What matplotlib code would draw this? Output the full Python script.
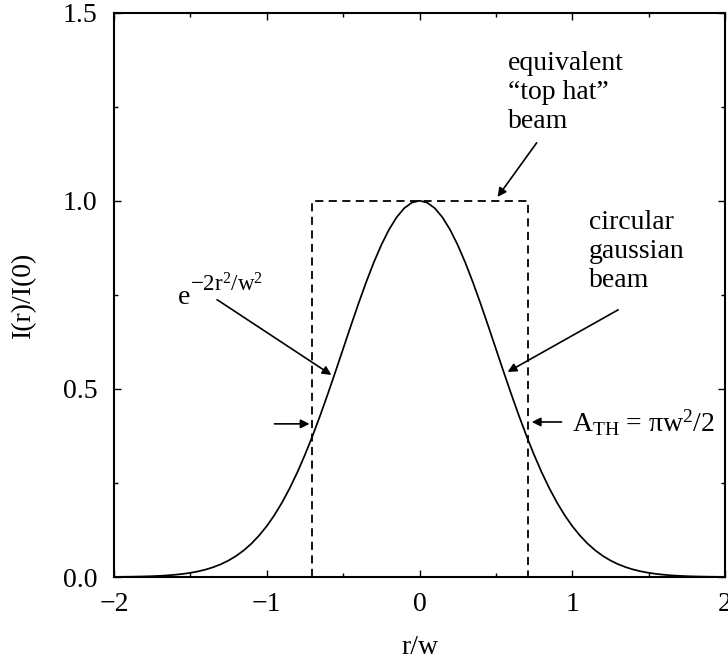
import matplotlib
matplotlib.use("Agg")
import matplotlib.pyplot as plt
import numpy as np
from matplotlib.ticker import MultipleLocator

plt.rcParams['font.family'] = ['Liberation Serif', 'DejaVu Serif']
plt.rcParams['mathtext.fontset'] = 'custom'
plt.rcParams['mathtext.rm'] = 'Liberation Serif'
plt.rcParams['mathtext.it'] = 'Liberation Serif:italic'
plt.rcParams['mathtext.default'] = 'regular'

# Gaussian profile read at r/w >= 0 (mirrored for negative r/w)
r_half = [0.00, 0.05, 0.10, 0.15, 0.20, 0.25, 0.30, 0.35, 0.40, 0.45,
          0.50, 0.55, 0.60, 0.65, 0.70, 0.75, 0.80, 0.85, 0.90, 0.95,
          1.00, 1.05, 1.10, 1.15, 1.20, 1.25, 1.30, 1.35, 1.40, 1.45,
          1.50, 1.55, 1.60, 1.65, 1.70, 1.75, 1.80, 1.85, 1.90, 1.95, 2.00]
i_half = [1.0000, 0.9950, 0.9802, 0.9560, 0.9231, 0.8825, 0.8353, 0.7827, 0.7261, 0.6670,
          0.6065, 0.5461, 0.4868, 0.4296, 0.3753, 0.3247, 0.2780, 0.2357, 0.1979, 0.1644,
          0.1353, 0.1103, 0.0889, 0.0710, 0.0561, 0.0439, 0.0340, 0.0261, 0.0198, 0.0149,
          0.0111, 0.0082, 0.0060, 0.0043, 0.0031, 0.0022, 0.0015, 0.0011, 0.0007, 0.0005, 0.0003]

tophat_halfwidth = 0.707
tophat_height = 1.0

x_ticks = [-2, -1, 0, 1, 2]
x_ticklabels = ['\u22122', '\u22121', '0', '1', '2']
y_ticks = [0.0, 0.5, 1.0, 1.5]
y_ticklabels = ['0.0', '0.5', '1.0', '1.5']

r_full = [-v for v in r_half[:0:-1]] + r_half
i_full = i_half[:0:-1] + i_half

fig = plt.figure(figsize=(7.28, 6.63), dpi=100)
ax = fig.add_axes([0.1566, 0.1297, 0.8393, 0.8513])

ax.plot(r_full, i_full, color='black', lw=1.25)
ax.plot([-tophat_halfwidth, -tophat_halfwidth, tophat_halfwidth, tophat_halfwidth],
        [0, tophat_height, tophat_height, 0],
        color='black', lw=1.3, linestyle=(0, (4.5, 3)))

ax.set_xlim(-2, 2)
ax.set_ylim(0, 1.5)
ax.set_xticks(x_ticks)
ax.set_xticklabels(x_ticklabels)
ax.set_yticks(y_ticks)
ax.set_yticklabels(y_ticklabels)
ax.xaxis.set_minor_locator(MultipleLocator(0.5))
ax.yaxis.set_minor_locator(MultipleLocator(0.25))
ax.tick_params(which='both', direction='in', top=True, right=True, labelsize=20)
ax.tick_params(which='major', length=5, width=1)
ax.tick_params(which='minor', length=3, width=1)
ax.tick_params(axis='y', pad=12)
ax.tick_params(axis='x', pad=11)
for s in ax.spines.values():
    s.set_linewidth(1.5)

ax.set_xlabel('r/w', fontsize=20, labelpad=13)
ax.set_ylabel('I(r)/I(0)', fontsize=20, labelpad=19)

ap = dict(arrowstyle='-|>', lw=1.2, color='black', mutation_scale=13,
          shrinkA=0, shrinkB=0)

ax.text(0.58, 1.397, 'equivalent\n\u201ctop hat\u201d\nbeam', fontsize=20,
        ha='left', va='top', linespacing=1.2)
ax.annotate('', xy=(0.511, 1.01), xytext=(0.767, 1.154), arrowprops=ap)

ax.text(1.11, 0.975, 'circular\ngaussian\nbeam', fontsize=20,
        ha='left', va='top', linespacing=1.2)
ax.annotate('', xy=(0.577, 0.545), xytext=(1.30, 0.71), arrowprops=ap)

ax.text(-1.58, 0.725, 'e', fontsize=20, ha='left', va='baseline')
ax.annotate('\u22122r$^{2}$/w$^{2}$', xy=(-1.58, 0.725), xycoords='data',
            xytext=(8.6, 8.8), textcoords='offset points',
            fontsize=16.5, ha='left', va='baseline')
ax.annotate('', xy=(-0.577, 0.537), xytext=(-1.325, 0.737), arrowprops=ap)

ax.annotate('', xy=(-0.72, 0.407), xytext=(-0.95, 0.407), arrowprops=ap)
ax.annotate('', xy=(0.735, 0.412), xytext=(0.93, 0.412), arrowprops=ap)
ax.text(1.0, 0.386, r'$\mathregular{A_{TH}}$ = $\mathregular{\pi w^2/2}$', fontsize=20,
        ha='left', va='baseline')

fig.savefig('out.png', dpi=100)
